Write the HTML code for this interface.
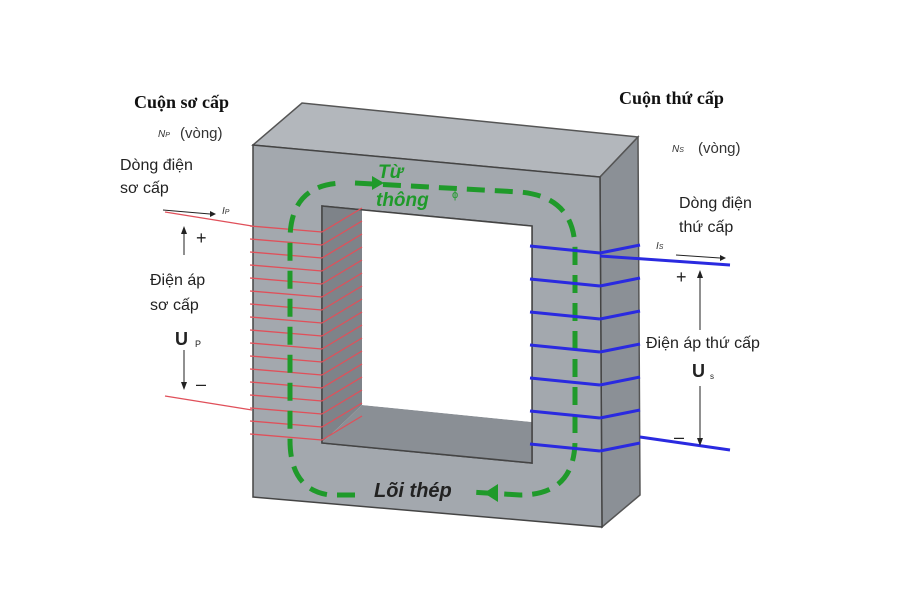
<!DOCTYPE html>
<html><head><meta charset="utf-8"><style>
body{margin:0;background:#fff;}
svg{display:block;}
text{font-family:"Liberation Sans",sans-serif;}
</style></head><body>
<svg width="900" height="600" viewBox="0 0 900 600" xmlns="http://www.w3.org/2000/svg">
<polygon points="253,145 302,103 638,137 600,177" fill="#b3b7bc" stroke="#555" stroke-width="1.5"/>
<polygon points="600,177 638,137 640,495 602,527" fill="#8b9096" stroke="#555" stroke-width="1.5"/>
<path d="M253,145 L600,177 L602,527 L253,497 Z M322,206 L532,226 L532,463 L322,443 Z" fill="#a3a8ae" fill-rule="evenodd" stroke="#444" stroke-width="1.5"/>
<polygon points="322,206 362,210 362,405 322,443" fill="#7e8389"/>
<polygon points="322,443 362,405 532,422 532,463" fill="#8a8f95"/>
<polygon points="362,210 532,226 532,422 362,405" fill="#fff"/>
<polygon points="322,206 532,226 532,463 322,443" fill="none" stroke="#444" stroke-width="1.5"/>
<g stroke="#e0505a" stroke-width="1.3" fill="none">
<line x1="165" y1="212" x2="252" y2="226"/>
<line x1="165" y1="396" x2="252" y2="410"/>
<g id="rc">
<line x1="250" y1="226" x2="322" y2="232"/>
<line x1="322" y1="232" x2="362" y2="208"/>
</g>
<use href="#rc" y="13"/><use href="#rc" y="26"/><use href="#rc" y="39"/><use href="#rc" y="52"/><use href="#rc" y="65"/><use href="#rc" y="78"/><use href="#rc" y="91"/><use href="#rc" y="104"/><use href="#rc" y="117"/><use href="#rc" y="130"/><use href="#rc" y="143"/><use href="#rc" y="156"/><use href="#rc" y="169"/><use href="#rc" y="182"/><use href="#rc" y="195"/><use href="#rc" y="208"/>
</g>
<path d="M355,183 L520,192 Q575,197 575,250 L575,440 Q575,495 520,495 L470,492 M355,495 L330,495 Q290,490 290,440 L290,240 Q290,183 345,183" fill="none" stroke="#1f9a2a" stroke-width="5" stroke-dasharray="18,10"/>
<polygon points="372,176 372,190 384,183" fill="#1f9a2a"/>
<polygon points="498,484 498,502 484,493" fill="#1f9a2a"/>
<g stroke="#2a2ae0" stroke-width="3" fill="none">
<line x1="600" y1="256" x2="730" y2="265"/>
<line x1="640" y1="437" x2="730" y2="450"/>
<g id="bc">
<line x1="530" y1="246" x2="600" y2="253"/>
<line x1="600" y1="253" x2="640" y2="245"/>
</g>
<use href="#bc" y="33"/><use href="#bc" y="66"/><use href="#bc" y="99"/><use href="#bc" y="132"/><use href="#bc" y="165"/><use href="#bc" y="198"/>
</g>
<text x="134" y="108" style="font-family:'Liberation Serif',serif" font-weight="bold" font-size="18" fill="#111">Cuộn sơ cấp</text>
<text x="619" y="104" style="font-family:'Liberation Serif',serif" font-weight="bold" font-size="18" fill="#111">Cuộn thứ cấp</text>
<text x="158" y="137" font-size="10" font-style="italic" fill="#333">N<tspan font-size="7">P</tspan></text>
<text x="180" y="138" font-size="15" fill="#333">(vòng)</text>
<text x="672" y="152" font-size="10" font-style="italic" fill="#333">N<tspan font-size="7">S</tspan></text>
<text x="698" y="153" font-size="15" fill="#333">(vòng)</text>
<text x="120" y="170" font-size="16" fill="#222">Dòng điện</text>
<text x="120" y="193" font-size="16" fill="#222">sơ cấp</text>
<text x="679" y="208" font-size="16" fill="#222">Dòng điện</text>
<text x="679" y="232" font-size="16" fill="#222">thứ cấp</text>
<line x1="163" y1="210" x2="210" y2="214" stroke="#222" stroke-width="1"/>
<polygon points="210,211 216,214 210,217" fill="#222"/>
<text x="222" y="214" font-size="10" font-style="italic" fill="#333">I<tspan font-size="7">P</tspan></text>
<text x="656" y="249" font-size="10" font-style="italic" fill="#333">I<tspan font-size="7">S</tspan></text>
<line x1="676" y1="255" x2="720" y2="258" stroke="#222" stroke-width="1"/>
<polygon points="720,255 726,258 720,261" fill="#222"/>
<line x1="184" y1="228" x2="184" y2="255" stroke="#222"/><polygon points="181,234 184,226 187,234" fill="#222"/>
<line x1="184" y1="350" x2="184" y2="388" stroke="#222"/><polygon points="181,382 184,390 187,382" fill="#222"/>
<text x="196" y="244" font-size="18" fill="#222">+</text>
<text x="196" y="390" font-size="18" fill="#222">–</text>
<text x="150" y="285" font-size="16" fill="#222">Điện áp</text>
<text x="150" y="310" font-size="16" fill="#222">sơ cấp</text>
<text x="175" y="345" font-size="18" font-weight="bold" fill="#222">U</text><text x="195" y="347" font-size="9" fill="#222">P</text>
<line x1="700" y1="272" x2="700" y2="330" stroke="#222"/><polygon points="697,278 700,270 703,278" fill="#222"/>
<line x1="700" y1="386" x2="700" y2="444" stroke="#222"/><polygon points="697,438 700,446 703,438" fill="#222"/>
<text x="676" y="283" font-size="18" fill="#222">+</text>
<text x="674" y="443" font-size="18" fill="#222">–</text>
<text x="646" y="348" font-size="16" fill="#222">Điện áp thứ cấp</text>
<text x="692" y="377" font-size="18" font-weight="bold" fill="#222">U</text><text x="710" y="379" font-size="8" fill="#222">s</text>
<text x="378" y="178" font-size="19" font-style="italic" font-weight="bold" fill="#1f9a2a">Từ</text>
<text x="376" y="206" font-size="19" font-style="italic" font-weight="bold" fill="#1f9a2a">thông</text>
<text x="452" y="198" font-size="11" fill="#1f9a2a">ϕ</text>
<text x="374" y="497" font-size="20" font-style="italic" font-weight="bold" fill="#222">Lõi thép</text>
</svg>
</body></html>
